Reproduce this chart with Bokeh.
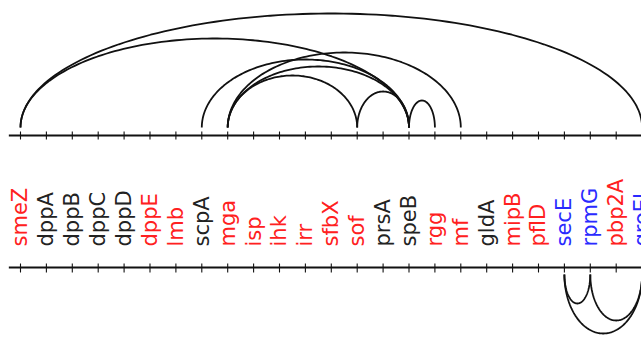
import numpy as np
from bokeh.plotting import figure
from bokeh.models import Range1d, ColumnDataSource
from bokeh.core.properties import value
from bokeh.embed import file_html
from bokeh.resources import INLINE

# ---- data ----
genes = ["smeZ", "dppA", "dppB", "dppC", "dppD", "dppE", "lmb", "scpA", "mga",
         "isp", "ihk", "irr", "sfbX", "sof", "prsA", "speB", "rgg", "mf", "gldA",
         "mipB", "pflD", "secE", "rpmG", "pbp2A", "groEL"]
gene_class = ["red", "black", "black", "black", "black", "red", "red", "black", "red",
              "red", "red", "red", "red", "red", "black", "black", "red", "red", "black",
              "red", "red", "blue", "blue", "red", "blue"]

top_start = ["smeZ", "smeZ", "scpA", "mga", "mga", "mga", "sof", "speB"]
top_end = ["groEL", "speB", "speB", "mf", "speB", "sof", "speB", "rgg"]
top_height = [114, 89, 68, 75, 61, 52, 36, 27]

bot_start = ["secE", "secE", "rpmG"]
bot_end = ["rpmG", "groEL", "groEL"]
bot_depth = [29, 59, 46]

palette = {"red": "#ff2020", "black": "#222222", "blue": "#2a2aff"}

# ---- figure ----
p = figure(width=641, height=337, x_range=Range1d(-0.772, 23.977),
           y_range=Range1d(-202, 135), output_backend="svg",
           toolbar_location=None, min_border=0)
p.axis.visible = False
p.grid.visible = False
p.outline_line_color = None
p.background_fill_color = "white"

idx = {g: i for i, g in enumerate(genes)}
xs_idx = list(range(len(genes)))

TOP_Y = 0
BOT_Y = -132
x_lo = -0.45
x_hi = len(genes) + 1

p.segment(x0=[x_lo, x_lo], x1=[x_hi, x_hi], y0=[TOP_Y, BOT_Y], y1=[TOP_Y, BOT_Y],
          line_color="#111111", line_width=1.8)

p.segment(x0=xs_idx, x1=xs_idx, y0=[TOP_Y - 4] * len(genes), y1=[TOP_Y + 4] * len(genes),
          line_color="#111111", line_width=1.1)
p.segment(x0=xs_idx, x1=xs_idx, y0=[BOT_Y - 5] * len(genes), y1=[BOT_Y + 4] * len(genes),
          line_color="#111111", line_width=1.1)

# labels
src = ColumnDataSource(dict(x=xs_idx, y=[-111] * len(genes), t=genes,
                            c=[palette[k] for k in gene_class]))
p.text(x="x", y="y", text="t", source=src, angle=np.pi / 2, text_align="left",
       text_baseline="middle", text_font=value("DejaVu Sans"), text_font_size="21px",
       text_color="c")

# arcs
tt = np.linspace(0, np.pi, 120)


def arc_lines(starts, ends, hs, base, sign):
    xs, ys = [], []
    for s, e, h in zip(starts, ends, hs):
        i0, i1 = idx[s], idx[e]
        c = (i0 + i1) / 2.0
        a = (i1 - i0) / 2.0
        xs.append(list(c + a * np.cos(tt)))
        ys.append(list(base + sign * h * np.sin(tt)))
    return xs, ys


txs, tys = arc_lines(top_start, top_end, top_height, 8, 1)
p.multi_line(xs=txs, ys=tys, line_color="#111111", line_width=1.8)
bxs, bys = arc_lines(bot_start, bot_end, bot_depth, -139, -1)
p.multi_line(xs=bxs, ys=bys, line_color="#111111", line_width=1.8)

open("out.html", "w").write(file_html(p, INLINE))
